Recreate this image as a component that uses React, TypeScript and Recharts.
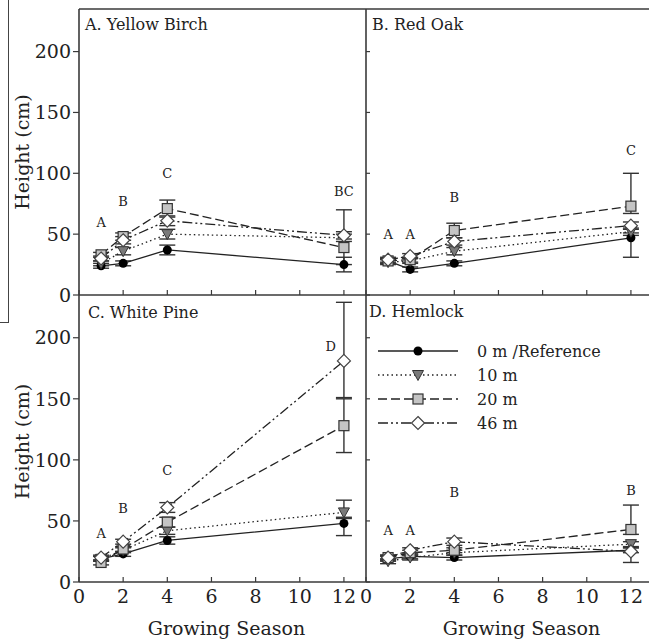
import React from "react";
import { LineChart, Line, XAxis, YAxis, ErrorBar, ReferenceLine, ReferenceDot, Legend } from "recharts";

// growing seasons sampled
const seasons = [1, 2, 4, 12];
const xTicks = [0, 2, 4, 6, 8, 10, 12];
const yTicks = [0, 50, 100, 150, 200];

const seriesKeys = ["ref", "m10", "m20", "m46"];
const seriesNames = ["0 m /Reference", "10 m", "20 m", "46 m"];

// A. Yellow Birch
const birchRef = [24, 26, 37, 25];
const birch10 = [26, 36, 50, 47];
const birch20 = [33, 48, 71, 39];
const birch46 = [30, 45, 61, 49];
const birchRefErr = [2, 2, 4, 6];
const birch10Err = [2, 3, 4, 3];
const birch20Err = [2, 3, 7, [14, 31]];
const birch46Err = [2, 3, 4, 3];
const birchLetters = ["A", "B", "C", "BC"];
const birchLetterX = [1, 2, 4, 12];
const birchLetterY = [60, 77, 100, 85];

// B. Red Oak
const oakRef = [28, 21, 26, 47];
const oak10 = [27, 28, 36, 52];
const oak20 = [28, 29, 53, 73];
const oak46 = [29, 32, 44, 57];
const oakRefErr = [2, 2, 2, [16, 4]];
const oak10Err = [2, 2, 3, 3];
const oak20Err = [2, 2, 6, [6, 27]];
const oak46Err = [2, 2, 3, 3];
const oakLetters = ["A", "A", "B", "C"];
const oakLetterX = [1, 2, 4, 12];
const oakLetterY = [50, 50, 80, 119];

// C. White Pine
const pineRef = [19, 23, 34, 48];
const pine10 = [19, 26, 42, 57];
const pine20 = [16, 27, 49, 128];
const pine46 = [20, 33, 61, 181];
const pineRefErr = [2, 2, 3, [10, 4]];
const pine10Err = [2, 2, 3, [4, 10]];
const pine20Err = [2, 2, 4, 22];
const pine46Err = [2, 2, 4, [30, 48]];
const pineLetters = ["A", "B", "C", "D"];
const pineLetterX = [1, 2, 4, 11.4];
const pineLetterY = [40, 60, 91, 193];

// D. Hemlock
const hemRef = [19, 21, 20, 26];
const hem10 = [17, 20, 24, 31];
const hem20 = [20, 24, 26, 43];
const hem46 = [20, 26, 33, 25];
const hemRefErr = [2, 2, 2, 2];
const hem10Err = [2, 2, 2, 2];
const hem20Err = [2, 2, 2, [4, 20]];
const hem46Err = [2, 2, 3, [9, 3]];
const hemLetters = ["A", "A", "B", "B"];
const hemLetterX = [1, 2, 4, 12];
const hemLetterY = [42, 42, 73, 75];

const FONT = '"DejaVu Serif", "Liberation Serif", serif';
const INK = "#222";
const AXIS = "#3a3a3a";

const STYLE: Record<string, { dash?: string; marker: string }> = {
  ref: { dash: undefined, marker: "circle" },
  m10: { dash: "1.5 3", marker: "tri" },
  m20: { dash: "9 4", marker: "square" },
  m46: { dash: "10 3 2 3 2 3", marker: "diamond" },
};

const makeRows = (vals: any[][], errs: any[][]) =>
  seasons.map((s, i) => {
    const row: any = { season: s };
    seriesKeys.forEach((k, j) => {
      row[k] = vals[j][i];
      row[k + "Err"] = errs[j][i];
    });
    return row;
  });

const Marker = ({ kind, cx, cy }: { kind: string; cx: number; cy: number }) => {
  if (cx == null || cy == null) return null;
  if (kind === "circle") return <circle cx={cx} cy={cy} r={4.5} fill="#000" />;
  if (kind === "tri")
    return <path d={`M${cx - 5.5},${cy - 4.5}L${cx + 5.5},${cy - 4.5}L${cx},${cy + 5.5}Z`} fill="#7a7a7a" stroke="#333" strokeWidth={1} />;
  if (kind === "square")
    return <rect x={cx - 5} y={cy - 5} width={10} height={10} fill="#c4c4c4" stroke="#333" strokeWidth={1.2} />;
  return <path d={`M${cx},${cy - 6.5}L${cx + 6.5},${cy}L${cx},${cy + 6.5}L${cx - 6.5},${cy}Z`} fill="#fff" stroke="#444" strokeWidth={1.2} />;
};

const LegendBox = () => (
  <svg width={260} height={96} style={{ display: "block" }}>
    {seriesKeys.map((k, i) => {
      const y = 10 + i * 24;
      return (
        <g key={k}>
          <line x1={0} x2={80} y1={y} y2={y} stroke={INK} strokeWidth={1.3} strokeDasharray={STYLE[k].dash} />
          <Marker kind={STYLE[k].marker} cx={40} cy={y} />
          <text x={99} y={y} dominantBaseline="central" fontSize={16} fill={INK} style={{ fontFamily: FONT }}>
            {seriesNames[i]}
          </text>
        </g>
      );
    })}
  </svg>
);

const heightLabel = (shift: number) => (p: any) => {
  const vb = p.viewBox || { y: 0, height: 0 };
  const cy = vb.y + vb.height / 2 + shift;
  return (
    <text x={22} y={cy} transform={`rotate(-90 22 ${cy})`} textAnchor="middle" dominantBaseline="central" fontSize={19} fill={INK} style={{ fontFamily: FONT }}>
      Height (cm)
    </text>
  );
};

const seasonLabel = (shift: number) => (p: any) => {
  const vb = p.viewBox || { x: 0, y: 0, width: 0 };
  return (
    <text x={vb.x + vb.width / 2 + shift} y={vb.y + 46} textAnchor="middle" dominantBaseline="central" fontSize={19} fill={INK} style={{ fontFamily: FONT }}>
      Growing Season
    </text>
  );
};

type PanelProps = {
  rows: any[];
  letters: string[];
  lx: number[];
  ly: number[];
  col: "left" | "right";
  row: "top" | "bottom";
  labelShift?: number;
  legend?: boolean;
};

const Panel = ({ rows, letters, lx, ly, col, row, labelShift = 0, legend }: PanelProps) => {
  const isLeft = col === "left";
  const isTop = row === "top";
  const width = isLeft ? 380 : 303;
  const height = isTop ? 310 : 356;
  const margin = { top: isTop ? 9 : 10, right: isLeft ? 14 : 6, bottom: 0, left: 0 };
  return (
    <div style={{ position: "absolute", left: isLeft ? 0 : 356, top: isTop ? 0 : 285 }}>
      <LineChart width={width} height={height} data={rows} margin={margin} style={{ fontFamily: FONT }}>
        <XAxis
          type="number"
          dataKey="season"
          domain={[0, 13]}
          ticks={xTicks}
          height={isTop ? 15 : 59}
          tickSize={-5}
          tickMargin={isTop ? 0 : 13}
          tickFormatter={isTop ? () => "" : undefined}
          tick={{ fill: INK, fontSize: 19, fontFamily: FONT }}
          axisLine={{ stroke: AXIS, strokeWidth: 1.6 }}
          tickLine={{ stroke: AXIS, strokeWidth: 1.2 }}
          label={isTop ? undefined : seasonLabel(isLeft ? 4 : 12)}
        />
        <YAxis
          type="number"
          domain={[0, 235]}
          ticks={yTicks}
          width={isLeft ? 79 : 10}
          tickSize={isLeft ? 6 : -4}
          tickMargin={2}
          tickFormatter={isLeft ? undefined : () => ""}
          tick={{ fill: INK, fontSize: 19, fontFamily: FONT }}
          axisLine={{ stroke: AXIS, strokeWidth: 1.6 }}
          tickLine={{ stroke: AXIS, strokeWidth: 1.2 }}
          label={isLeft ? heightLabel(labelShift) : undefined}
        />
        {isTop && <ReferenceLine y={235} stroke={AXIS} strokeWidth={1.6} />}
        {seriesKeys.map((k) => (
          <Line
            key={k}
            dataKey={k}
            type="linear"
            stroke={INK}
            strokeWidth={1.3}
            strokeDasharray={STYLE[k].dash}
            isAnimationActive={false}
            activeDot={false}
            dot={(p: any) => <Marker key={`${k}-${p.index}`} kind={STYLE[k].marker} cx={p.cx} cy={p.cy} />}
          >
            <ErrorBar dataKey={k + "Err"} width={8} stroke="#333" strokeWidth={1.4} direction="y" isAnimationActive={false} />
          </Line>
        ))}
        {letters.map((l, i) => (
          <ReferenceDot
            key={`lt-${i}`}
            x={lx[i]}
            y={ly[i]}
            r={0}
            fill="none"
            stroke="none"
            ifOverflow="visible"
            label={{ value: l, position: "center", fontSize: 13, fill: INK, fontFamily: FONT }}
          />
        ))}
        {legend && (
          <Legend
            layout="vertical"
            align="center"
            verticalAlign="middle"
            content={LegendBox}
            wrapperStyle={{ left: 22, top: 56, width: 260 }}
          />
        )}
      </LineChart>
    </div>
  );
};

const titleStyle = (left: number, top: number): React.CSSProperties => ({
  position: "absolute",
  left,
  top,
  fontSize: 16,
  lineHeight: 1,
  color: INK,
  fontFamily: FONT,
  whiteSpace: "nowrap",
});

export default function App() {
  const birchRows = makeRows([birchRef, birch10, birch20, birch46], [birchRefErr, birch10Err, birch20Err, birch46Err]);
  const oakRows = makeRows([oakRef, oak10, oak20, oak46], [oakRefErr, oak10Err, oak20Err, oak46Err]);
  const pineRows = makeRows([pineRef, pine10, pine20, pine46], [pineRefErr, pine10Err, pine20Err, pine46Err]);
  const hemRows = makeRows([hemRef, hem10, hem20, hem46], [hemRefErr, hem10Err, hem20Err, hem46Err]);

  return (
    <div
      style={{
        position: "absolute",
        left: 0,
        top: 0,
        width: 649,
        height: 641,
        overflow: "hidden",
        background: "#fff",
        fontFamily: FONT,
      }}
    >
      {/* stray frame edge at far left of the scan */}
      <div style={{ position: "absolute", left: 0, top: 0, width: 8, height: 322, borderRight: "1.5px solid #444", borderBottom: "1.5px solid #444" }} />
      <Panel rows={birchRows} letters={birchLetters} lx={birchLetterX} ly={birchLetterY} col="left" row="top" />
      <Panel rows={oakRows} letters={oakLetters} lx={oakLetterX} ly={oakLetterY} col="right" row="top" />
      <Panel rows={pineRows} letters={pineLetters} lx={pineLetterX} ly={pineLetterY} col="left" row="bottom" labelShift={3} />
      <Panel rows={hemRows} letters={hemLetters} lx={hemLetterX} ly={hemLetterY} col="right" row="bottom" legend />
      <div style={titleStyle(85, 17)}>A. Yellow Birch</div>
      <div style={titleStyle(372, 17)}>B. Red Oak</div>
      <div style={titleStyle(88, 305)}>C. White Pine</div>
      <div style={titleStyle(369, 304)}>D. Hemlock</div>
    </div>
  );
}
